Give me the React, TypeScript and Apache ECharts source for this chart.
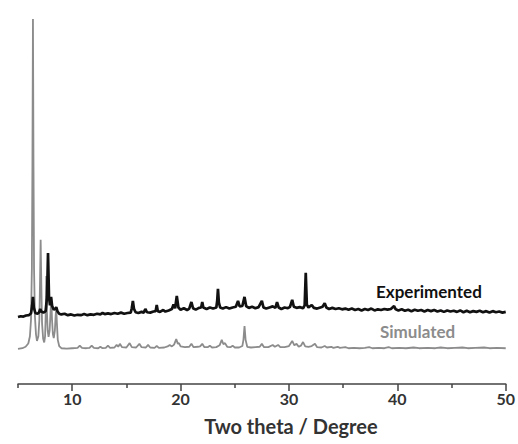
import React, { useEffect, useRef } from "react";
import * as echarts from "echarts";

// Powder XRD patterns: [2θ (degree), intensity (a.u.)], intensity relative to each trace's own offset
const simulatedPattern: [number, number][] = [
  [5.0, 0.0], [5.4, 0.2], [5.7, 0.6], [5.95, 1.5], [6.1, 3.5], [6.2, 8], [6.28, 22], [6.33, 50],
  [6.38, 90.4], [6.43, 50], [6.48, 22], [6.56, 9], [6.66, 4], [6.75, 2.2], [6.88, 3.5], [6.97, 8],
  [7.03, 18], [7.09, 29.9], [7.15, 18], [7.22, 7], [7.32, 2.8], [7.42, 1.8], [7.5, 3.5], [7.56, 10],
  [7.61, 20], [7.67, 10], [7.74, 5], [7.82, 3.3], [7.92, 5], [8.0, 10], [8.07, 14], [8.14, 8],
  [8.22, 4], [8.3, 3.0], [8.4, 5], [8.47, 9], [8.53, 11], [8.59, 7], [8.67, 2.5], [8.8, 0.8],
  [9.0, 0.2], [9.5, 0.1], [10.0, 0.2], [10.5, 0.3], [10.7, 0.9], [10.9, 0.3], [11.3, 0.2], [11.6, 0.3],
  [11.8, 0.9], [12.0, 0.3], [12.4, 0.2], [12.6, 0.6], [12.8, 0.2], [13.1, 0.3], [13.3, 0.9], [13.5, 0.3],
  [13.9, 0.4], [14.1, 1.1], [14.25, 0.6], [14.4, 1.4], [14.6, 0.5], [15.0, 0.4], [15.3, 1.6], [15.5, 0.5],
  [15.9, 0.4], [16.2, 1.4], [16.4, 0.5], [16.8, 0.4], [17.0, 1.1], [17.2, 0.4], [17.6, 0.3], [17.8, 0.8],
  [18.0, 0.3], [18.5, 0.4], [18.8, 0.7], [19.0, 1.1], [19.2, 0.7], [19.4, 1.2], [19.6, 2.7], [19.75, 1.4],
  [19.85, 1.6], [20.0, 0.7], [20.4, 0.5], [20.8, 0.6], [21.0, 1.4], [21.2, 0.5], [21.6, 0.6], [21.8, 0.7],
  [22.0, 1.4], [22.2, 0.5], [22.5, 0.5], [22.7, 0.9], [22.9, 0.4], [23.3, 0.5], [23.6, 1.0], [23.8, 2.5],
  [23.95, 1.3], [24.1, 1.6], [24.3, 0.6], [24.6, 0.5], [24.8, 0.9], [25.0, 0.4], [25.4, 0.4], [25.7, 0.8],
  [25.8, 2.5], [25.9, 6.3], [26.0, 2.5], [26.15, 0.6], [26.5, 0.4], [26.9, 0.5], [27.3, 0.6], [27.5, 1.4],
  [27.7, 0.5], [28.1, 0.5], [28.5, 1.1], [28.7, 0.6], [29.0, 1.1], [29.2, 0.5], [29.6, 0.5], [30.0, 0.8],
  [30.3, 2.2], [30.5, 1.0], [30.7, 1.4], [30.9, 0.6], [31.1, 0.9], [31.3, 1.9], [31.5, 0.7], [31.8, 0.6],
  [32.1, 0.8], [32.4, 1.4], [32.6, 0.5], [33.0, 0.4], [33.3, 0.8], [33.5, 0.4], [33.9, 0.6], [34.1, 0.3],
  [34.5, 0.6], [34.7, 0.3], [35.2, 0.5], [35.5, 0.2], [36.0, 0.3], [36.5, 0.2], [37.0, 0.3], [37.4, 0.5],
  [37.7, 0.2], [38.3, 0.3], [38.8, 0.2], [39.2, 0.5], [39.5, 0.2], [40.2, 0.3], [40.8, 0.2], [41.5, 0.4],
  [42.0, 0.2], [42.8, 0.3], [43.5, 0.2], [44.0, 0.4], [44.6, 0.2], [45.3, 0.3], [46.0, 0.4], [46.5, 0.2],
  [47.2, 0.3], [48.0, 0.4], [48.5, 0.2], [49.2, 0.3], [50.0, 0.2],
];

const experimentedPattern: [number, number][] = [
  [5.0, 0.0], [5.25, 0.2], [5.5, 0.1], [5.75, 0.4], [6.0, 0.5], [6.2, 1.0], [6.3, 3.0], [6.38, 5.5],
  [6.46, 2.6], [6.6, 1.1], [6.8, 0.9], [6.95, 1.3], [7.05, 2.2], [7.15, 1.5], [7.35, 1.2], [7.55, 1.6],
  [7.68, 5.5], [7.77, 17.5], [7.86, 5.5], [7.95, 3.2], [8.05, 5.5], [8.15, 3.0], [8.3, 2.0], [8.45, 2.3],
  [8.53, 2.7], [8.65, 1.5], [8.8, 0.9], [9.0, 0.7], [9.3, 0.9], [9.6, 0.5], [9.9, 0.7], [10.2, 0.4],
  [10.5, 0.6], [10.8, 0.5], [11.1, 0.8], [11.4, 0.5], [11.7, 0.7], [12.0, 0.6], [12.3, 0.9], [12.6, 0.7],
  [12.8, 1.1], [13.0, 0.8], [13.3, 1.0], [13.6, 0.8], [13.9, 1.1], [14.2, 0.9], [14.5, 1.2], [14.8, 0.9],
  [15.1, 1.1], [15.4, 1.2], [15.5, 2.4], [15.6, 4.4], [15.7, 2.2], [15.85, 1.3], [16.1, 1.1], [16.4, 1.4],
  [16.6, 1.2], [16.75, 2.2], [16.9, 1.3], [17.2, 1.2], [17.5, 1.5], [17.7, 1.6], [17.8, 3.3], [17.9, 1.6],
  [18.1, 1.4], [18.4, 1.9], [18.6, 1.5], [18.9, 1.8], [19.2, 2.2], [19.35, 3.4], [19.5, 2.4], [19.65, 5.8],
  [19.8, 2.6], [20.0, 2.0], [20.3, 2.4], [20.6, 1.9], [20.8, 2.3], [21.0, 4.1], [21.15, 2.4], [21.4, 2.0],
  [21.7, 2.5], [21.9, 2.6], [22.0, 4.1], [22.1, 2.6], [22.4, 2.2], [22.7, 2.6], [23.0, 2.3], [23.3, 2.6],
  [23.38, 4.5], [23.45, 7.7], [23.53, 4.0], [23.65, 2.6], [23.9, 2.3], [24.2, 2.7], [24.5, 2.3], [24.8, 2.6],
  [25.1, 2.8], [25.3, 4.4], [25.45, 2.9], [25.7, 3.0], [25.9, 5.5], [26.05, 3.0], [26.3, 2.5], [26.6, 2.8],
  [26.9, 2.4], [27.2, 2.7], [27.5, 4.4], [27.65, 2.6], [27.9, 2.3], [28.2, 2.6], [28.5, 2.9], [28.75, 2.5],
  [28.9, 4.1], [29.05, 2.6], [29.3, 2.2], [29.6, 2.6], [29.9, 2.4], [30.1, 2.8], [30.3, 4.7], [30.45, 2.8],
  [30.7, 2.5], [31.0, 2.7], [31.3, 2.4], [31.45, 3.2], [31.55, 12.1], [31.65, 3.4], [31.8, 2.6], [32.1, 3.3],
  [32.3, 2.5], [32.6, 2.3], [32.9, 2.6], [33.1, 2.8], [33.3, 3.8], [33.45, 2.6], [33.7, 2.2], [34.0, 2.5],
  [34.3, 2.2], [34.6, 2.4], [34.9, 2.1], [35.2, 2.3], [35.5, 2.0], [35.8, 2.3], [36.1, 1.9], [36.4, 2.2],
  [36.7, 1.8], [37.0, 2.2], [37.3, 1.9], [37.6, 2.3], [37.9, 1.8], [38.2, 2.1], [38.5, 1.9], [38.8, 2.2],
  [39.1, 2.0], [39.4, 2.2], [39.7, 3.0], [39.85, 2.1], [40.1, 1.8], [40.4, 2.1], [40.7, 1.7], [41.0, 2.0],
  [41.3, 1.6], [41.6, 2.0], [41.9, 1.7], [42.2, 1.9], [42.5, 1.5], [42.8, 1.9], [43.1, 1.6], [43.4, 1.9],
  [43.7, 1.5], [44.0, 1.8], [44.3, 1.4], [44.6, 1.8], [44.9, 1.5], [45.2, 1.7], [45.5, 1.4], [45.8, 1.8],
  [46.1, 1.3], [46.4, 1.7], [46.7, 1.3], [47.0, 1.6], [47.3, 1.4], [47.6, 1.7], [47.9, 1.3], [48.2, 1.6],
  [48.5, 1.2], [48.8, 1.6], [49.1, 1.3], [49.4, 1.5], [49.7, 1.2], [50.0, 1.4],
];

// Vertical offsets used to stack the two traces
const SIM_OFFSET = 9.6;
const EXP_OFFSET = 18.36;

const majorTicks = [10, 20, 30, 40, 50];
const minorTicks = [5, 15, 25, 35, 45];

const FONT = "Lato, 'Open Sans', sans-serif";

export default function App() {
  const ref = useRef<HTMLDivElement>(null);

  useEffect(() => {
    if (!ref.current) return;
    const chart = echarts.init(ref.current, undefined, { renderer: "svg" });

    const shift = (pts: [number, number][], off: number) => pts.map(([x, y]) => [x, y + off]);

    chart.setOption({
      animation: false,
      backgroundColor: "#ffffff",
      grid: { left: 18, right: 11, top: 19, bottom: 60, containLabel: false },
      xAxis: [
        {
          type: "value",
          min: 5,
          max: 50,
          axisLine: { show: true, lineStyle: { color: "#444", width: 1.5 } },
          axisTick: { show: true, length: 7, customValues: majorTicks, lineStyle: { color: "#444", width: 1.5 } },
          axisLabel: {
            customValues: majorTicks,
            margin: 6,
            color: "#333",
            fontFamily: FONT,
            fontWeight: "bold",
            fontSize: 16,
          },
          splitLine: { show: false },
        },
        {
          type: "value",
          position: "bottom",
          min: 5,
          max: 50,
          axisLine: { show: false },
          axisTick: { show: true, length: 4, customValues: minorTicks, lineStyle: { color: "#444", width: 1.5 } },
          axisLabel: { show: false },
          splitLine: { show: false },
        },
      ],
      yAxis: { type: "value", min: 0, max: 100, show: false, splitLine: { show: false } },
      series: [
        {
          name: "Simulated",
          type: "line",
          xAxisIndex: 0,
          data: shift(simulatedPattern, SIM_OFFSET),
          showSymbol: false,
          lineStyle: { color: "#8c8c8c", width: 1.8 },
          z: 2,
        },
        {
          name: "Experimented",
          type: "line",
          xAxisIndex: 0,
          data: shift(experimentedPattern, EXP_OFFSET),
          showSymbol: false,
          lineStyle: { color: "#111", width: 2.7 },
          z: 3,
        },
      ],
      graphic: [
        {
          type: "text",
          left: 376,
          top: 283,
          style: { text: "Experimented", fill: "#111", font: `bold 17px ${FONT}` },
        },
        {
          type: "text",
          left: 380,
          top: 323,
          style: { text: "Simulated", fill: "#8c8c8c", font: `bold 17px ${FONT}` },
        },
        {
          type: "text",
          x: 291,
          y: 416,
          style: {
            text: "Two theta / Degree",
            fill: "#333",
            font: `bold 20px ${FONT}`,
            align: "center",
            verticalAlign: "top",
          },
        },
      ],
    });

    return () => chart.dispose();
  }, []);

  return (
    <div
      ref={ref}
      style={{ position: "absolute", left: 0, top: 0, width: 518, height: 444 }}
    />
  );
}
